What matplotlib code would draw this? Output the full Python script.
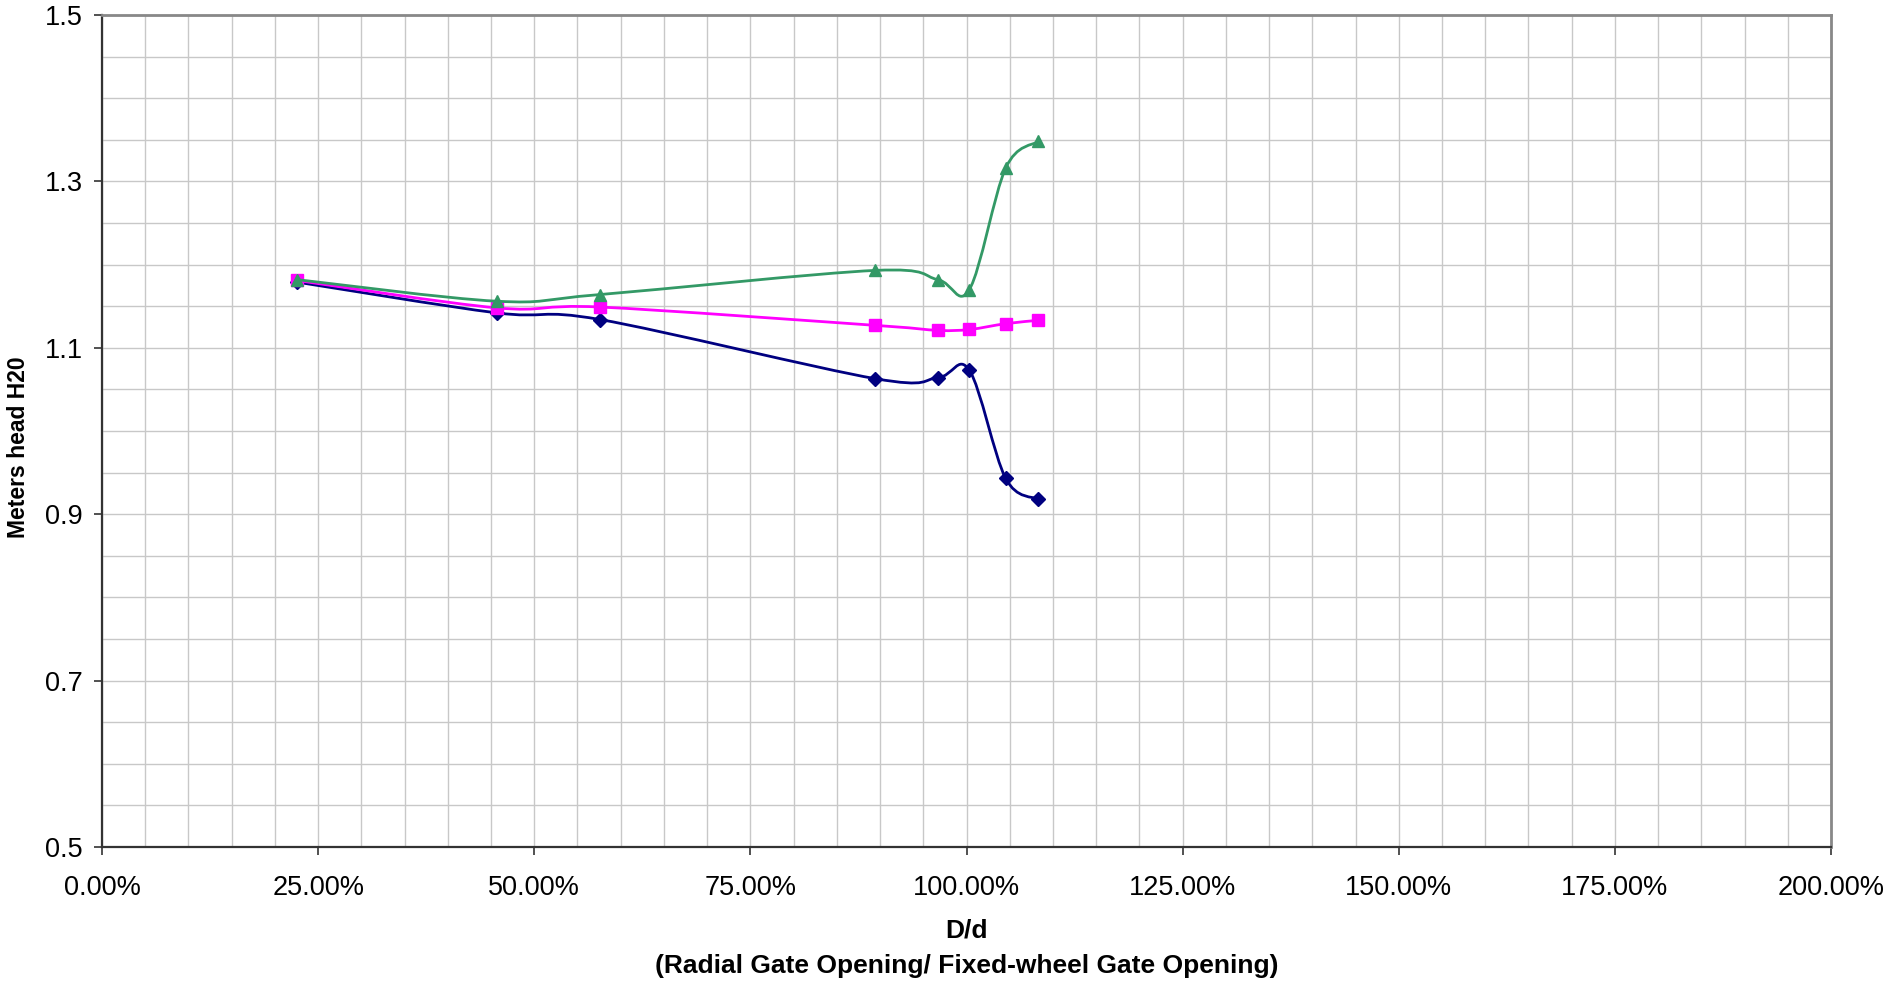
import numpy as np
import matplotlib
matplotlib.use('Agg')
import matplotlib.pyplot as plt
from matplotlib.path import Path
from matplotlib.patches import PathPatch
from matplotlib.ticker import MultipleLocator, FuncFormatter

plt.rcParams['font.family'] = ['Liberation Sans', 'DejaVu Sans']

# data (x as fraction, D/d)
x_ratio = [0.2252, 0.4565, 0.576, 0.894, 0.9667, 1.0033, 1.0453, 1.0827]
head_blue = [1.179, 1.142, 1.134, 1.063, 1.064, 1.073, 0.943, 0.918]
head_magenta = [1.181, 1.148, 1.149, 1.127, 1.121, 1.122, 1.129, 1.133]
head_green = [1.182, 1.156, 1.164, 1.193, 1.182, 1.170, 1.316, 1.348]
y_ticks = [0.5, 0.7, 0.9, 1.1, 1.3, 1.5]


def smooth_path(x, y):
    """Excel-like smoothed line: cubic Bezier through points (Catmull-Rom)."""
    pts = np.column_stack([x, y])
    n = len(pts)
    verts = [pts[0]]
    codes = [Path.MOVETO]
    for i in range(n - 1):
        p0 = pts[max(i - 1, 0)]
        p1 = pts[i]
        p2 = pts[i + 1]
        p3 = pts[min(i + 2, n - 1)]
        verts += [p1 + (p2 - p0) / 6, p2 - (p3 - p1) / 6, p2]
        codes += [Path.CURVE4] * 3
    return Path(verts, codes)


fig = plt.figure(figsize=(18.85, 9.85), dpi=100)
ax = fig.add_axes([102/1885, 138/985, 1729/1885, 832/985])

series = [
    (head_blue, '#000080', 'D', 7),
    (head_magenta, '#FF00FF', 's', 8),
    (head_green, '#339966', '^', 9),
]
for k, (y, col, mk, ms) in enumerate(series):
    ax.add_patch(PathPatch(smooth_path(x_ratio, y), facecolor='none',
                           edgecolor=col, lw=2.0, zorder=3 + k))
    ax.plot(x_ratio, y, linestyle='none', marker=mk, ms=ms, color=col,
            zorder=3 + k, clip_on=False)

ax.set_xlim(0, 2.0)
ax.set_ylim(0.5, 1.5)
ax.xaxis.set_major_locator(MultipleLocator(0.25))
ax.xaxis.set_minor_locator(MultipleLocator(0.05))
ax.set_yticks(y_ticks)
ax.yaxis.set_minor_locator(MultipleLocator(0.05))
ax.xaxis.set_major_formatter(FuncFormatter(lambda v, p: f'{v*100:.2f}%'))
ax.yaxis.set_major_formatter(FuncFormatter(lambda v, p: f'{v:.1f}'))

ax.grid(which='both', color='#c8c8c8', lw=1.0)
ax.set_axisbelow(True)
ax.tick_params(which='major', direction='out', length=6, width=1.2,
               labelsize=19.5, color='#333333')
ax.tick_params(axis='x', which='major', pad=14)
ax.tick_params(axis='y', which='major', pad=8)
ax.tick_params(which='minor', length=0)

for s in ['left', 'bottom']:
    ax.spines[s].set_color('#333333')
    ax.spines[s].set_linewidth(1.6)
for s in ['top', 'right']:
    ax.spines[s].set_color('#888888')
    ax.spines[s].set_linewidth(2.0)

ax.set_xlabel('D/d\n(Radial Gate Opening/ Fixed-wheel Gate Opening)',
              fontsize=19, fontweight='bold', linespacing=1.6)
ax.xaxis.set_label_coords(0.5, -0.086)
ax.set_ylabel('Meters head H20', fontsize=16.5, fontweight='bold')
ax.yaxis.set_label_coords(-0.0415, 0.481)

fig.savefig('out.png', dpi=100)
